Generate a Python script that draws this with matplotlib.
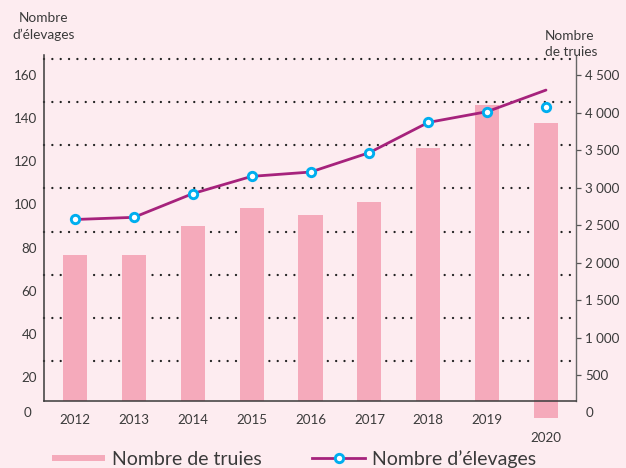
import matplotlib
matplotlib.use("Agg")
import matplotlib.pyplot as plt
from matplotlib.lines import Line2D
from matplotlib.transforms import blended_transform_factory
import numpy as np

plt.rcParams['font.family'] = ['Lato', 'DejaVu Sans']
plt.rcParams['lines.scale_dashes'] = False

# ---- data ----
years = ['2012', '2013', '2014', '2015', '2016', '2017', '2018', '2019', '2020']
truies = [2108, 2108, 2490, 2729, 2636, 2809, 3528, 4097, 3861]
elevages = [93, 94, 105, 113, 115, 124, 138, 143, 145]
elevages_line = [93, 94, 105, 113, 115, 124, 138, 143, 153]
left_ticks = [20, 40, 60, 80, 100, 120, 140, 160]
right_ticks = [500, 1000, 1500, 2000, 2500, 3000, 3500, 4000, 4500]
right_labels = ['500', '1 000', '1 500', '2 000', '2 500', '3 000', '3 500', '4 000', '4 500']

# ---- style ----
BG = '#FDECF0'
BAR = '#F5AABB'
LINE = '#A6227C'
CYAN = '#00AEEF'
TXT = '#3A3A3A'
W, H = 626, 468

fig = plt.figure(figsize=(W / 100, H / 100), dpi=100, facecolor=BG)
rect = [44 / W, 1 - 401 / H, 532 / W, (401 - 55) / H]
axA = fig.add_axes(rect)           # bars, right scale
axA.set_facecolor(BG)
axB = axA.twinx()                  # line, left scale
axA.yaxis.tick_right()
axA.yaxis.set_label_position('right')
axB.yaxis.tick_left()
axB.yaxis.set_label_position('left')

x = np.arange(len(years))
axA.set_xlim(-0.527, 8.51)
axB.set_xlim(-0.527, 8.51)

# scales
axB.set_ylim((420.1 - 401) / 2.157, (420.1 - 55) / 2.157)
axA.set_ylim((413 - 401) / 0.07511, (413 - 55) / 0.07511)

# dotted gridlines (drawn under bars)
tr = blended_transform_factory(axA.transAxes, axB.transData)
for g in np.arange(8) * 20 + 27.4:
    axA.plot([0, 1], [g, g], transform=tr, color='#222222', lw=1.7,
             linestyle=(0, (0.01, 6.0)), dash_capstyle='round', zorder=1,
             clip_on=False)

# bars
bottoms = [0] * 8 + [-70]
bars = axA.bar(x, np.array(truies) - np.array(bottoms), bottom=bottoms,
               width=0.41, color=BAR, zorder=2)
bars[-1].set_clip_on(False)

# line + markers
axB.plot(x, elevages_line, color=LINE, lw=2.0, solid_capstyle='round', zorder=3)
axB.plot(x, elevages, 'o', ms=6, mfc='white', mec=CYAN, mew=2.1, zorder=4)

# ticks
axB.set_yticks(left_ticks)
axB.set_yticklabels([str(v) for v in left_ticks])
axB.tick_params(axis='y', length=0, pad=5, labelsize=9.6, labelcolor=TXT)
axB.set_xticks([])

axA.set_yticks(right_ticks)
axA.set_yticklabels(right_labels)
axA.tick_params(axis='y', length=3.6, width=0.9, color='#555555', pad=3,
                labelsize=9.6, labelcolor=TXT)
axA.set_xticks(x)
axA.set_xticklabels(years)
axA.tick_params(axis='x', length=0, pad=9.2, labelsize=9.6, labelcolor=TXT)
axA.xaxis.get_major_ticks()[-1].set_pad(22)

# spines
for s in ['top', 'right', 'bottom']:
    axB.spines[s].set_visible(False)
axB.spines['left'].set_color('#3A3A3A')
axB.spines['left'].set_linewidth(1.1)
axA.spines['top'].set_visible(False)
axA.spines['left'].set_visible(False)
axA.spines['right'].set_color('#666666')
axA.spines['right'].set_linewidth(1.0)
axA.spines['bottom'].set_color('#3A3A3A')
axA.spines['bottom'].set_linewidth(1.1)

# extra texts
fig.text(28 / W, 1 - 413 / H, '0', ha='center', va='center', fontsize=9.6, color=TXT)
fig.text(590 / W, 1 - 413 / H, '0', ha='center', va='center', fontsize=9.6, color=TXT)
fig.text(44 / W, 1 - 18 / H, 'Nombre', ha='center', va='center', fontsize=9.8, color=TXT)
fig.text(44 / W, 1 - 35 / H, 'd’élevages', ha='center', va='center', fontsize=9.8, color=TXT)
fig.text(570 / W, 1 - 36 / H, 'Nombre', ha='center', va='center', fontsize=9.8, color=TXT)
fig.text(571 / W, 1 - 52 / H, 'de truies', ha='center', va='center', fontsize=9.8, color=TXT)

# legend
handles = [Line2D([], [], color=BAR, lw=4.3, solid_capstyle='butt'),
           Line2D([], [], color=LINE, lw=2.0, marker='o', ms=6, mfc='white',
                  mec=CYAN, mew=2.1)]
leg = fig.legend(handles, ['Nombre de truies', 'Nombre d’élevages'],
                 loc='center left', bbox_to_anchor=(52 / W, 1 - 459 / H),
                 ncol=2, frameon=False, fontsize=14, handlelength=2.73,
                 handletextpad=0.36, columnspacing=2.58, borderpad=0,
                 borderaxespad=0)
for t in leg.get_texts():
    t.set_color(TXT)

fig.savefig('out.png', dpi=100, facecolor=BG)
